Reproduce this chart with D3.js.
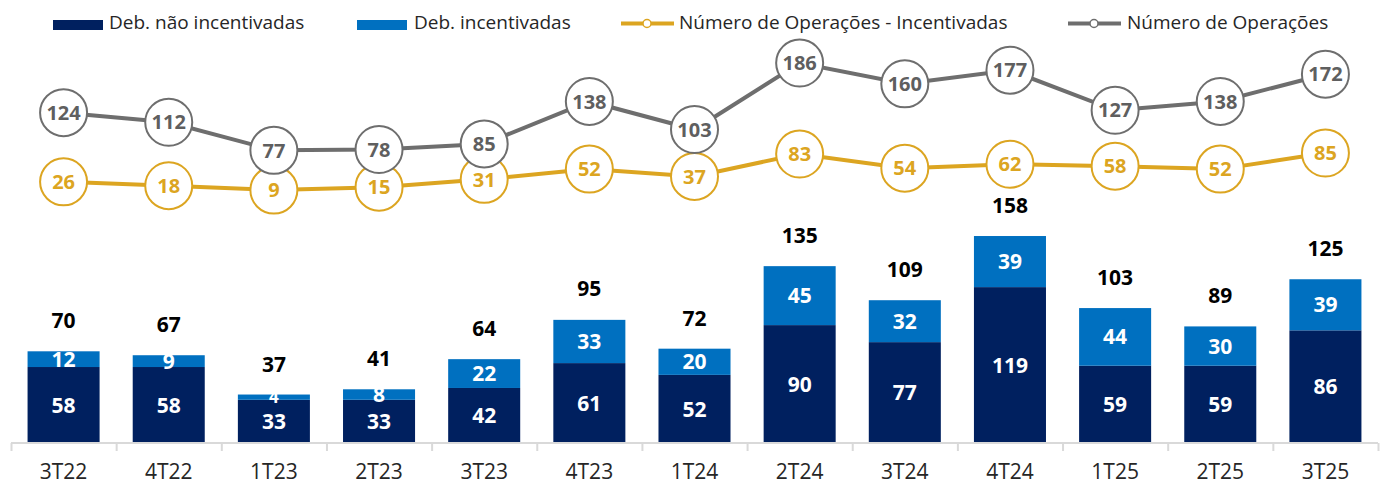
<!DOCTYPE html>
<html>
  <head>
    <meta charset="utf-8">
    <title>Debêntures por trimestre</title>
    <script src="https://d3js.org/d3.v7.min.js"></script>
    <style>
      body { margin: 0; background: #fff; }
      svg { display: block; font-family: "Open Sans", "Noto Sans", sans-serif; }
    </style>
  </head>
  <body>
    <div id="chart"></div>
    <script>
      // data
      var quarters = ["3T22", "4T22", "1T23", "2T23", "3T23", "4T23", "1T24", "2T24", "3T24", "4T24", "1T25", "2T25", "3T25"];
      var naoIncentivadas = [58, 58, 33, 33, 42, 61, 52, 90, 77, 119, 59, 59, 86];
      var incentivadas = [12, 9, 4, 8, 22, 33, 20, 45, 32, 39, 44, 30, 39];
      var totals = [70, 67, 37, 41, 64, 95, 72, 135, 109, 158, 103, 89, 125];
      var opsIncentivadas = [26, 18, 9, 15, 31, 52, 37, 83, 54, 62, 58, 52, 85];
      var opsTotal = [124, 112, 77, 78, 85, 138, 103, 186, 160, 177, 127, 138, 172];

      var NAVY = "#00205f", BLUE = "#0070c0", GOLD = "#dca521", GRAY = "#6e6e6e";

      var width = 1389, height = 496;
      var svg = d3.select("#chart").append("svg")
        .attr("width", width).attr("height", height);

      var x = d3.scaleBand().domain(quarters).range([11, 1378]);
      var barW = x.step() * 0.685;
      var cx = function (d, i) { return x(quarters[i]) + x.bandwidth() / 2; };

      // bars on their own axis, the two lines on separate hidden axes
      var yBar = d3.scaleLinear().domain([0, 200]).range([443, 181]);
      var yTot = d3.scaleLinear().domain([0, 186]).range([212, 63]);
      var yInc = d3.scaleLinear().domain([0, 85]).range([194.5, 153]);

      // stacked bars
      var rows = quarters.map(function (q, i) {
        return { q: q, nao: naoIncentivadas[i], inc: incentivadas[i] };
      });
      var stack = d3.stack().keys(["nao", "inc"])(rows);
      var colors = { nao: NAVY, inc: BLUE };

      stack.forEach(function (layer) {
        var g = svg.append("g");
        g.selectAll("rect").data(layer).enter().append("rect")
          .attr("x", function (d) { return x(d.data.q) + (x.bandwidth() - barW) / 2; })
          .attr("y", function (d) { return yBar(d[1]); })
          .attr("width", barW)
          .attr("height", function (d) { return yBar(d[0]) - yBar(d[1]); })
          .attr("fill", colors[layer.key]);
        g.selectAll("text").data(layer).enter().append("text")
          .attr("x", function (d) { return x(d.data.q) + x.bandwidth() / 2; })
          .attr("y", function (d) { return (yBar(d[0]) + yBar(d[1])) / 2; })
          .attr("dy", "0.36em")
          .attr("text-anchor", "middle")
          .attr("fill", "#fff")
          .attr("font-size", function (d) { return d[1] - d[0] < 6 ? 17 : 21; })
          .attr("font-weight", 700)
          .text(function (d) { return d.data[layer.key]; });
      });

      // totals above the bars
      svg.append("g").selectAll("text").data(totals).enter().append("text")
        .attr("x", cx)
        .attr("y", function (d) { return yBar(d) - 23; })
        .attr("text-anchor", "middle")
        .attr("font-size", 21)
        .attr("font-weight", 700)
        .attr("fill", "#000")
        .text(function (d) { return d; });

      // x axis
      var axis = svg.append("g");
      axis.append("line")
        .attr("x1", 11).attr("x2", 1378).attr("y1", 443).attr("y2", 443)
        .attr("stroke", "#d9d9d9").attr("stroke-width", 2);
      axis.selectAll(".tick").data(d3.range(quarters.length + 1)).enter().append("line")
        .attr("x1", function (i) { return 12 + i * x.step() - 0.5; })
        .attr("x2", function (i) { return 12 + i * x.step() - 0.5; })
        .attr("y1", 443).attr("y2", 451)
        .attr("stroke", "#d9d9d9").attr("stroke-width", 2);
      axis.selectAll("text").data(quarters).enter().append("text")
        .attr("x", function (d) { return x(d) + x.bandwidth() / 2; })
        .attr("y", 479)
        .attr("text-anchor", "middle")
        .attr("font-size", 21)
        .attr("fill", "#262626")
        .text(function (d) { return d; });

      // lines with labelled circles
      function drawLine(values, y, color, textColor) {
        var g = svg.append("g");
        g.append("path")
          .datum(values)
          .attr("fill", "none")
          .attr("stroke", color)
          .attr("stroke-width", 4)
          .attr("d", d3.line().x(cx).y(function (d) { return y(d); }));
        var pt = g.selectAll("g").data(values).enter().append("g")
          .attr("transform", function (d, i) { return "translate(" + cx(d, i) + "," + y(d) + ")"; });
        pt.append("circle")
          .attr("r", 23.5)
          .attr("fill", "#fff")
          .attr("stroke", color)
          .attr("stroke-width", 2);
        pt.append("text")
          .attr("text-anchor", "middle")
          .attr("dy", "0.36em")
          .attr("font-size", 20)
          .attr("font-weight", 700)
          .attr("fill", textColor)
          .text(function (d) { return d; });
      }
      drawLine(opsIncentivadas, yInc, GOLD, GOLD);
      drawLine(opsTotal, yTot, GRAY, "#5f5f5f");

      // legend
      var legend = [
        { label: "Deb. não incentivadas", type: "rect", color: NAVY, x: 53, tx: 109 },
        { label: "Deb. incentivadas", type: "rect", color: BLUE, x: 357, tx: 414 },
        { label: "Número de Operações - Incentivadas", type: "line", color: GOLD, x: 621, tx: 679 },
        { label: "Número de Operações", type: "line", color: GRAY, x: 1068, tx: 1127 }
      ];
      var lg = svg.append("g").selectAll("g").data(legend).enter().append("g");
      lg.filter(function (d) { return d.type === "rect"; }).append("rect")
        .attr("x", function (d) { return d.x; })
        .attr("y", 20).attr("width", 50).attr("height", 10)
        .attr("fill", function (d) { return d.color; });
      var ll = lg.filter(function (d) { return d.type === "line"; });
      ll.append("line")
        .attr("x1", function (d) { return d.x; })
        .attr("x2", function (d) { return d.x + 53; })
        .attr("y1", 23.5).attr("y2", 23.5)
        .attr("stroke", function (d) { return d.color; })
        .attr("stroke-width", 4);
      ll.append("circle")
        .attr("cx", function (d) { return d.x + 26; })
        .attr("cy", 23.5).attr("r", 4)
        .attr("fill", "#fff")
        .attr("stroke", function (d) { return d.color; })
        .attr("stroke-width", 1.5);
      lg.append("text")
        .attr("x", function (d) { return d.tx; })
        .attr("y", 29)
        .attr("font-size", 19)
        .attr("fill", "#262626")
        .text(function (d) { return d.label; });
    </script>
  </body>
</html>
